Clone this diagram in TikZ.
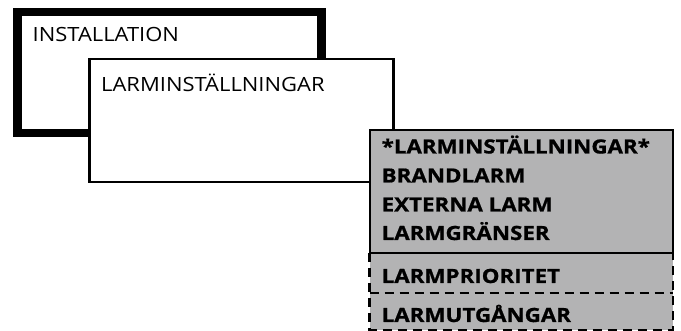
\documentclass[tikz,border=0pt]{standalone}
\usepackage{fontspec}
\setmainfont{Open Sans}
\newfontfamily\regf{Open Sans}[FakeStretch=1.12]
\newfontfamily\boldf{Open Sans}[FakeStretch=1.14, BoldFeatures={FakeBold=0.9}]
\definecolor{menugray}{HTML}{B3B3B4}
\begin{document}
\begin{tikzpicture}[x=1pt,y=-1pt,
  box/.style={draw, rectangle, inner sep=0pt, outer sep=0pt, anchor=north west},
  reg/.style={font=\regf\fontsize{19.6}{20}\selectfont, inner sep=0pt, anchor=base west},
  bld/.style={font=\boldf\bfseries\fontsize{19.6}{20}\selectfont, inner sep=0pt, anchor=base west},
  dashpat/.style={line width=2.5pt, dash pattern=on 9pt off 6pt}
]
\useasboundingbox (0,0) rectangle (681,331);
% thick outer box
\node[box, line width=8.5pt, minimum width=304pt, minimum height=121pt] (inst) at (17.5,12) {};
\node[reg] (instt) at (32.5,41.5) {INSTALLATION};
% white box
\node[box, fill=white, line width=2.5pt, minimum width=304pt, minimum height=123pt] (larm) at (89.5,59) {};
\node[reg] (larmt) at (101,91.5) {LARMINSTÄLLNINGAR};
% dashed extra sections
\node[box, fill=menugray, draw=none, minimum width=303.5pt, minimum height=77pt] (extra) at (369.5,253) {};
\coordinate (p1) at (369.5,253);
\coordinate (p2) at (369.5,330);
\coordinate (p3) at (673,330);
\coordinate (p4) at (673,253);
\coordinate (m1) at (369.5,293);
\coordinate (m2) at (673,293);
\draw[dashpat] (p1) -- (p2) -- (p3) -- (p4);
\draw[dashpat] (m1) -- (m2);
% grey menu box
\node[box, fill=menugray, line width=2pt, minimum width=303.5pt, minimum height=123.5pt] (menu) at (369.5,130) {};
\node[bld] (t1) at (381.5,153.5) {*LARMINSTÄLLNINGAR*};
\node[bld] (t2) at (381.5,182.5) {BRANDLARM};
\node[bld] (t3) at (381.5,211.5) {EXTERNA LARM};
\node[bld] (t4) at (381.5,240) {LARMGRÄNSER};
\node[bld] (t5) at (381.5,283) {LARMPRIORITET};
\node[bld] (t6) at (381.5,322) {LARMUTGÅNGAR};
\end{tikzpicture}
\end{document}
